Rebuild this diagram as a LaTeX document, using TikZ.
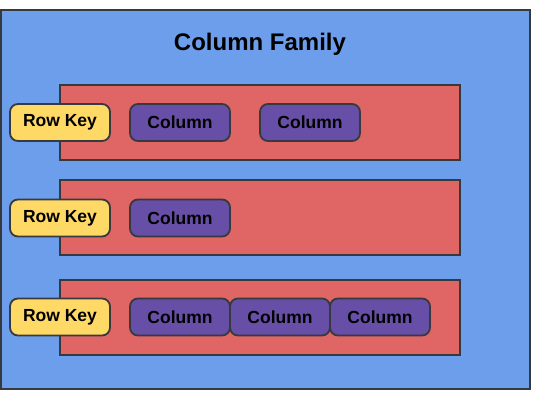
\documentclass[tikz,border=0pt]{standalone}
\usepackage{fontspec}
\setmainfont{Liberation Sans}
\definecolor{famblue}{HTML}{6D9EEB}
\definecolor{rowred}{HTML}{E06666}
\definecolor{colpurple}{HTML}{674EA7}
\definecolor{keyyellow}{HTML}{FFD966}
\definecolor{edge}{HTML}{36393D}
\tikzset{
  family/.style={draw=edge, fill=famblue, line width=1.8pt},
  rowbox/.style={draw=edge, fill=rowred, line width=1.8pt},
  keybox/.style={draw=edge, fill=keyyellow, line width=1.8pt, rounded corners=8pt,
    minimum width=100pt, minimum height=37pt, inner sep=0pt,
    font=\fontsize{17.5pt}{20pt}\selectfont\bfseries},
  colbox/.style={draw=edge, fill=colpurple, line width=1.8pt, rounded corners=8pt,
    minimum width=100pt, minimum height=37pt, inner sep=0pt,
    font=\fontsize{17.5pt}{20pt}\selectfont\bfseries},
}
\begin{document}
\begin{tikzpicture}[x=1pt,y=-1pt]
\useasboundingbox (0,0) rectangle (550,410);
\draw[family] (1,10) rectangle (530,389);
\node[font=\fontsize{24pt}{28pt}\selectfont\bfseries] (title) at (260,44) {Column Family};
% rows
\draw[rowbox] (60,85) rectangle (460,160);
\draw[rowbox] (60,180) rectangle (460,255);
\draw[rowbox] (60,280) rectangle (460,355);
% row 1
\node[keybox] (k1) at (60,122.5) {Row Key};
\node[colbox] (c11) at (180,122.5) {Column};
\node[colbox] (c12) at (310,122.5) {Column};
% row 2
\node[keybox] (k2) at (60,218) {Row Key};
\node[colbox] (c21) at (180,218) {Column};
% row 3
\node[keybox] (k3) at (60,317) {Row Key};
\node[colbox] (c31) at (180,317) {Column};
\node[colbox] (c32) at (280,317) {Column};
\node[colbox] (c33) at (380,317) {Column};
\end{tikzpicture}
\end{document}
